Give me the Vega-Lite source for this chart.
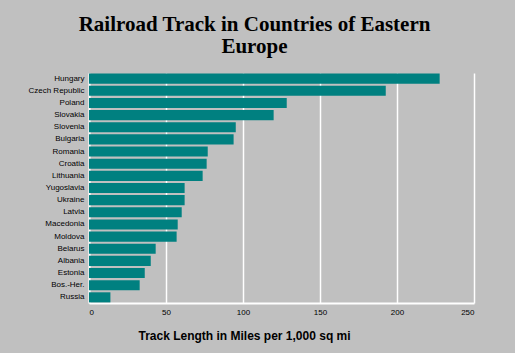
{
  "$schema": "https://vega.github.io/schema/vega-lite/v6.json",
  "width": 385,
  "height": 230,
  "autosize": "none",
  "padding": {"left": 89, "top": 73, "right": 41, "bottom": 50},
  "background": "#C0C0C0",
  "title": {
    "text": ["Railroad Track in Countries of Eastern", "Europe"],
    "font": "Liberation Serif",
    "fontSize": 21,
    "fontWeight": "bold",
    "color": "#000000",
    "lineHeight": 22,
    "anchor": "middle",
    "dx": -27,
    "offset": 16
  },
  "data": {
    "values": [
      {"country": "Hungary", "value": 227.7},
      {"country": "Czech Republic", "value": 192.7},
      {"country": "Poland", "value": 128.4},
      {"country": "Slovakia", "value": 119.9},
      {"country": "Slovenia", "value": 95.3},
      {"country": "Bulgaria", "value": 93.9},
      {"country": "Romania", "value": 77.1},
      {"country": "Croatia", "value": 76.4},
      {"country": "Lithuania", "value": 73.8},
      {"country": "Yugoslavia", "value": 62.1},
      {"country": "Ukraine", "value": 62.1},
      {"country": "Latvia", "value": 60.2},
      {"country": "Macedonia", "value": 57.6},
      {"country": "Moldova", "value": 56.9},
      {"country": "Belarus", "value": 43.3},
      {"country": "Albania", "value": 40.1},
      {"country": "Estonia", "value": 36.2},
      {"country": "Bos.-Her.", "value": 32.9},
      {"country": "Russia", "value": 13.9}
    ]
  },
  "mark": {"type": "bar", "color": "#008080"},
  "encoding": {
    "y": {
      "field": "country",
      "type": "nominal",
      "sort": null,
      "scale": {"paddingInner": 0.17, "paddingOuter": 0.05},
      "axis": {
        "title": null,
        "ticks": false,
        "grid": false,
        "domain": true,
        "domainColor": "#FFFFFF",
        "domainWidth": 2,
        "labelFont": "Liberation Sans",
        "labelFontSize": 8,
        "labelColor": "#000000",
        "labelPadding": 5
      }
    },
    "x": {
      "field": "value",
      "type": "quantitative",
      "scale": {"domain": [0, 250], "nice": false},
      "axis": {
        "title": "Track Length in Miles per 1,000 sq mi",
        "titleFont": "Liberation Sans",
        "titleFontSize": 12,
        "titleFontWeight": "bold",
        "titleColor": "#000000",
        "titleX": 155,
        "titleY": 36,
        "titleAlign": "center",
        "titleBaseline": "alphabetic",
        "values": [0, 50, 100, 150, 200, 250],
        "ticks": false,
        "grid": true,
        "gridColor": "#FFFFFF",
        "gridWidth": 1.5,
        "gridOpacity": 1,
        "domain": true,
        "domainColor": "#FFFFFF",
        "domainWidth": 2,
        "labelFont": "Liberation Sans",
        "labelFontSize": 8,
        "labelColor": "#000000",
        "labelPadding": 5
      }
    }
  },
  "config": {"view": {"stroke": null}}
}
